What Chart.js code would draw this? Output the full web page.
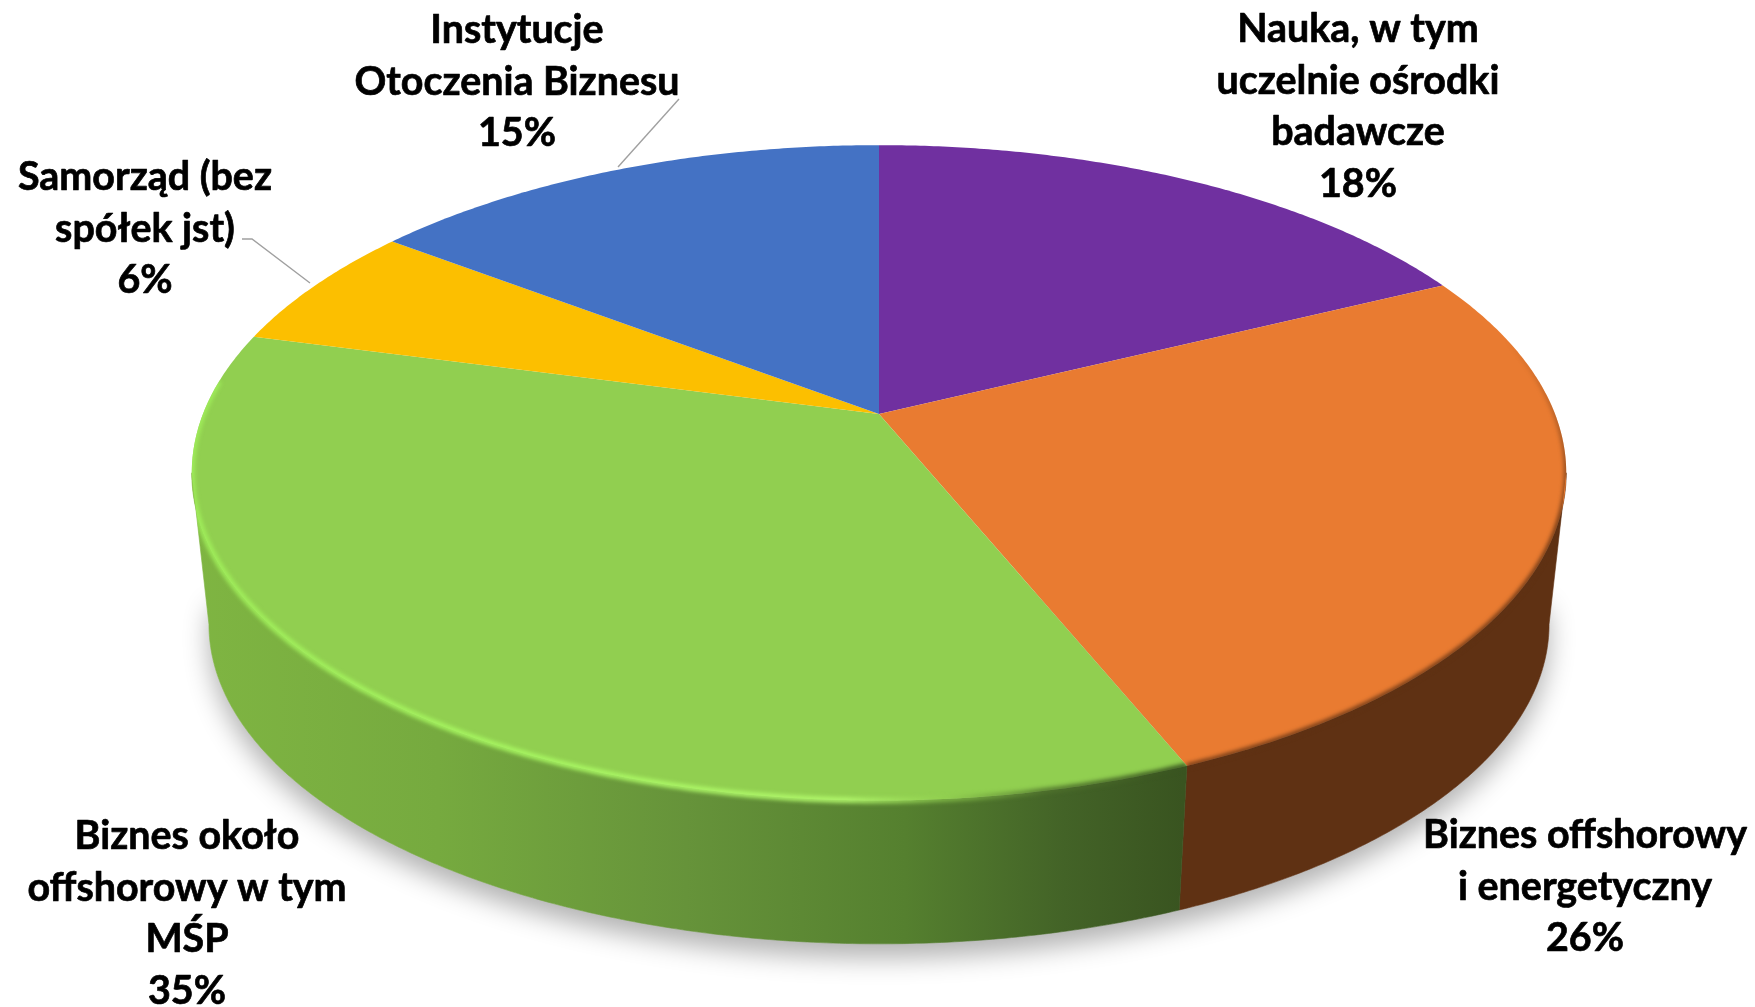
<!DOCTYPE html>
<html lang="pl">
<head>
<meta charset="utf-8">
<title>Struktura uczestników</title>
<script src="https://cdn.jsdelivr.net/npm/chart.js@4"></script>
<style>
html,body{margin:0;padding:0;background:#fff;overflow:hidden}
canvas{display:block}
</style>
</head>
<body>
<canvas id="c" width="1755" height="1007"></canvas>
<script>
const categories = [
  "Nauka, w tym uczelnie ośrodki badawcze",
  "Biznes offshorowy i energetyczny",
  "Biznes około offshorowy w tym MŚP",
  "Samorząd (bez spółek jst)",
  "Instytucje Otoczenia Biznesu"
];
const shares = [17.8, 26, 35.3, 6.2, 14.7];
const sliceColors = ["#7030a0", "#e97b31", "#91cf50", "#fcbf00", "#4472c4"];

const labelLines = [
  ["Nauka, w tym", "uczelnie ośrodki", "badawcze"],
  ["Biznes offshorowy", "i energetyczny"],
  ["Biznes około", "offshorowy w tym", "MŚP"],
  ["Samorząd (bez", "spółek jst)"],
  ["Instytucje", "Otoczenia Biznesu"]
];
const labelAnchors = [
  {x: 1358, y: 29},
  {x: 1585, y: 835},
  {x: 187, y: 836},
  {x: 145, y: 177},
  {x: 517, y: 30}
];
const leaderLines = [
  [[679, 99], [618, 167]],
  [[242, 239], [252, 239], [310, 283]]
];

/* view of the disc: perspective factors relative to the chart's own radius */
const view = {kx: 1.633, ky: 0.766, p: 0.1795, depthY: 153, depthScale: 0.975};

function project(el, a, low) {
  const s = low ? view.depthScale : 1;
  const u = Math.cos(a), v = Math.sin(a), w = 1 - view.p * v;
  return [
    el.x + el.outerRadius * view.kx * s * u / w,
    el.y + (low ? view.depthY : 0) + el.outerRadius * view.ky * s * v / w
  ];
}
function trace(ctx, el, a0, a1, low, first) {
  const n = Math.max(2, Math.ceil(Math.abs(a1 - a0) / 0.008));
  for (let i = 0; i <= n; i++) {
    const q = project(el, a0 + (a1 - a0) * i / n, low);
    if (i === 0 && first) ctx.moveTo(q[0], q[1]); else ctx.lineTo(q[0], q[1]);
  }
}

/* slices keep the library's geometry (angles, centre, radius) and are drawn in perspective */
Chart.ArcElement.prototype.draw = function (ctx) {
  ctx.save();
  ctx.beginPath();
  ctx.moveTo(this.x, this.y);
  trace(ctx, this, this.startAngle, this.endAngle, false, false);
  ctx.closePath();
  ctx.fillStyle = this.options.backgroundColor;
  ctx.fill();
  ctx.restore();
};

const rad = d => d * Math.PI / 180;
const sideLeft = Math.PI - Math.asin(view.p), sideRight = Math.asin(view.p);

/* region of a slice's top face plus its visible wall, so the blurred bevel cannot leak outside */
function clipSliceAndWall(ctx, arc) {
  const a0 = Math.max(arc.startAngle, sideRight);
  const a1 = Math.min(arc.endAngle, sideLeft);
  ctx.beginPath();
  ctx.moveTo(arc.x, arc.y);
  trace(ctx, arc, arc.startAngle, a0, false, false);
  trace(ctx, arc, a0, a1, true, false);
  trace(ctx, arc, a1, arc.endAngle, false, false);
  ctx.closePath();
  ctx.clip();
}

const discSides = {
  id: 'discSides',
  beforeDatasetsDraw(chart) {
    const ctx = chart.ctx, arcs = chart.getDatasetMeta(0).data, el = arcs[0];
    /* soft ground shadow */
    ctx.save();
    ctx.shadowColor = 'rgba(0,0,0,0.30)';
    ctx.shadowBlur = 26;
    ctx.shadowOffsetY = 14;
    ctx.fillStyle = '#e6e6e6';
    ctx.beginPath();
    trace(ctx, el, sideRight - 0.1, sideLeft + 0.1, true, true);
    ctx.closePath();
    ctx.fill();
    ctx.restore();

    /* side walls */
    const green = ctx.createLinearGradient(190, 0, 1183, 0);
    green.addColorStop(0, '#7fb542');
    green.addColorStop(0.25, '#76aa3f');
    green.addColorStop(0.5, '#66933a');
    green.addColorStop(0.72, '#55802f');
    green.addColorStop(0.88, '#436327');
    green.addColorStop(1, '#395420');
    const walls = {1: '#5f3113', 2: green};
    arcs.forEach((arc, i) => {
      if (!walls[i]) return;
      const a0 = Math.max(arc.startAngle, sideRight);
      const a1 = Math.min(arc.endAngle, sideLeft);
      ctx.beginPath();
      trace(ctx, arc, a0, a1, false, true);
      trace(ctx, arc, a1, a0, true, false);
      ctx.closePath();
      ctx.fillStyle = walls[i];
      ctx.fill();
      ctx.strokeStyle = walls[i];
      ctx.lineWidth = 0.6;
      ctx.stroke();
    });
  },
  afterDatasetsDraw(chart) {
    const ctx = chart.ctx, arcs = chart.getDatasetMeta(0).data;
    const orange = arcs[1], gr = arcs[2];

    /* bevel along the front edge of the top face */
    ctx.save();
    clipSliceAndWall(ctx, gr);
    ctx.filter = 'blur(2.2px)';
    const gBevel = ctx.createLinearGradient(190, 0, 1183, 0);
    gBevel.addColorStop(0, 'rgba(160,240,90,0.95)');
    gBevel.addColorStop(0.35, 'rgba(168,248,98,1)');
    gBevel.addColorStop(0.66, 'rgba(178,248,108,1)');
    gBevel.addColorStop(0.76, 'rgba(146,208,80,0.7)');
    gBevel.addColorStop(0.86, 'rgba(80,115,45,0.9)');
    gBevel.addColorStop(1, 'rgba(57,84,32,1)');
    ctx.strokeStyle = gBevel;
    ctx.lineWidth = 5.5;
    ctx.beginPath();
    trace(ctx, gr, gr.startAngle, rad(186), false, true);
    ctx.stroke();
    ctx.restore();

    ctx.save();
    clipSliceAndWall(ctx, orange);
    ctx.filter = 'blur(2.2px)';
    const oBevel = ctx.createLinearGradient(0, 340, 0, 520);
    oBevel.addColorStop(0, 'rgba(95,49,19,0)');
    oBevel.addColorStop(1, 'rgba(95,49,19,1)');
    ctx.strokeStyle = oBevel;
    ctx.lineWidth = 4;
    ctx.beginPath();
    trace(ctx, orange, orange.startAngle, orange.endAngle, false, true);
    ctx.stroke();
    ctx.restore();
  },
  afterDraw(chart) {
    const ctx = chart.ctx;
    ctx.save();
    ctx.strokeStyle = '#a0a0a0';
    ctx.lineWidth = 1.4;
    leaderLines.forEach(line => {
      ctx.beginPath();
      line.forEach((q, i) => i ? ctx.lineTo(q[0], q[1]) : ctx.moveTo(q[0], q[1]));
      ctx.stroke();
    });
    ctx.font = '700 40px Lato, "Open Sans", sans-serif';
    ctx.fillStyle = '#000';
    ctx.strokeStyle = '#000';
    ctx.lineWidth = 0.7;
    ctx.lineJoin = 'round';
    ctx.textAlign = 'center';
    ctx.textBaseline = 'middle';
    labelLines.forEach((lines, i) => {
      const all = lines.concat([Math.round(shares[i]) + '%']);
      all.forEach((t, k) => {
        const x = labelAnchors[i].x, y = labelAnchors[i].y + k * 51.7;
        ctx.save();
        ctx.translate(x, y);
        ctx.scale(0.985, 1);
        ctx.fillText(t, 0, 0);
        ctx.strokeText(t, 0, 0);
        ctx.restore();
      });
    });
    ctx.restore();
  }
};

new Chart(document.getElementById('c'), {
  type: 'pie',
  data: {
    labels: categories,
    datasets: [{data: shares, backgroundColor: sliceColors, borderWidth: 0, clip: false}]
  },
  options: {
    responsive: false,
    animation: false,
    layout: {padding: {left: 3, right: 0, top: 0, bottom: 179}},
    plugins: {legend: {display: false}, tooltip: {enabled: false}}
  },
  plugins: [discSides]
});
</script>
</body>
</html>
